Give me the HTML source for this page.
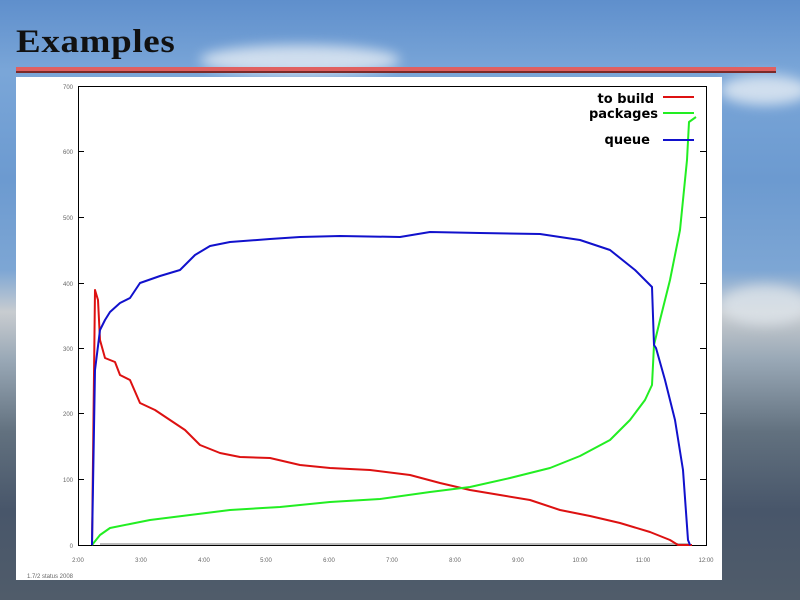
<!DOCTYPE html>
<html><head><meta charset="utf-8"><style>
body{margin:0;width:800px;height:600px;overflow:hidden;position:relative;font-family:"Liberation Sans",sans-serif;}
.bg{position:absolute;inset:0;background:linear-gradient(180deg,#5f8fcc 0%,#7aa6d8 12%,#6c9ad0 30%,#7da6d4 45%,#c8ccd0 52%,#99a8b6 60%,#62717f 72%,#48566a 85%,#505c6a 100%);}
.cl{position:absolute;background:#e6edf4;border-radius:50%;filter:blur(6px);opacity:.8}
h1{position:absolute;left:16px;top:24px;margin:0;font-family:"Liberation Serif",serif;font-weight:bold;font-size:33px;letter-spacing:0.6px;color:#111;transform:scaleX(1.12);transform-origin:left top;}
.bar1{position:absolute;left:16px;top:67px;width:760px;height:4px;background:#e06060}
.bar2{position:absolute;left:16px;top:71px;width:760px;height:2px;background:#7a2a2a}
.box{position:absolute;left:16px;top:77px;width:706px;height:503px;background:#fff}
svg{position:absolute;left:0;top:0}
</style></head><body>
<div class="bg"></div>
<div class="cl" style="left:720px;top:75px;width:90px;height:30px"></div>
<div class="cl" style="left:720px;top:285px;width:90px;height:40px;background:#dde4ea"></div>
<div class="cl" style="left:200px;top:45px;width:200px;height:30px"></div>
<h1>Examples</h1>
<div class="bar1"></div><div class="bar2"></div>
<div class="box"></div>
<svg width="800" height="600" viewBox="0 0 800 600">
<g stroke="#000" stroke-width="1" fill="none">
<rect x="78.5" y="86.5" width="628" height="459"/>
</g>
<g stroke="#000" stroke-width="1">
<line x1="78" y1="151.5" x2="84" y2="151.5"/><line x1="78" y1="217.5" x2="84" y2="217.5"/><line x1="78" y1="283.5" x2="84" y2="283.5"/><line x1="78" y1="348.5" x2="84" y2="348.5"/><line x1="78" y1="413.5" x2="84" y2="413.5"/><line x1="78" y1="479.5" x2="84" y2="479.5"/>
<line x1="700" y1="151.5" x2="706" y2="151.5"/><line x1="700" y1="217.5" x2="706" y2="217.5"/><line x1="700" y1="283.5" x2="706" y2="283.5"/><line x1="700" y1="348.5" x2="706" y2="348.5"/><line x1="700" y1="413.5" x2="706" y2="413.5"/><line x1="700" y1="479.5" x2="706" y2="479.5"/>
</g>
<g font-size="6" fill="#666" font-family="Liberation Sans" text-anchor="end">
<text x="73" y="89">700</text><text x="73" y="154">600</text><text x="73" y="220">500</text><text x="73" y="286">400</text><text x="73" y="351">300</text><text x="73" y="416">200</text><text x="73" y="482">100</text><text x="73" y="548">0</text>
</g>
<g font-size="6" fill="#666" font-family="Liberation Sans" text-anchor="middle">
<text x="78" y="562">2:00</text><text x="141" y="562">3:00</text><text x="204" y="562">4:00</text><text x="266" y="562">5:00</text><text x="329" y="562">6:00</text><text x="392" y="562">7:00</text><text x="455" y="562">8:00</text><text x="518" y="562">9:00</text><text x="580" y="562">10:00</text><text x="643" y="562">11:00</text><text x="706" y="562">12:00</text>
<text x="50" y="578">1.7/2 status 2008</text>
</g>
<line x1="100" y1="544" x2="690" y2="544" stroke="#bbb" stroke-width="2"/>
<g fill="none" stroke-width="2" stroke-linejoin="round">
<polyline stroke="#dd1111" points="92,545 95,290 98,300 100,340 105,358 115,362 120,375 130,380 140,403 155,410 170,420 185,430 200,445 220,453 240,457 270,458 300,465 330,468 370,470 410,475 440,483 470,490 500,495 530,500 560,510 590,516 620,523 650,532 670,540 678,545 692,545"/>
<polyline stroke="#22ee22" points="92,545 100,535 110,528 130,524 150,520 190,515 230,510 280,507 330,502 380,499 430,492 470,487 510,478 550,468 580,456 610,440 630,420 645,400 652,385 654,345 660,320 670,280 680,230 687,160 689,122 696,117"/>
<polyline stroke="#1111cc" points="92,545 95,370 100,330 105,320 110,312 120,303 130,298 140,283 160,276 180,270 195,255 210,246 230,242 270,239 300,237 340,236 400,237 430,232 480,233 540,234 580,240 610,250 635,270 652,287 654,345 656,348 665,380 675,420 683,470 688,540 690,545"/>
</g>
<g font-size="13" font-family="DejaVu Sans" font-weight="600" fill="#000" text-anchor="end">
<text x="654" y="103">to build</text><text x="658" y="118">packages</text><text x="650" y="144">queue</text>
</g>
<line x1="663" y1="97" x2="694" y2="97" stroke="#dd1111" stroke-width="2"/>
<line x1="663" y1="113" x2="694" y2="113" stroke="#22ee22" stroke-width="2"/>
<line x1="663" y1="140" x2="694" y2="140" stroke="#1111cc" stroke-width="2"/>
</svg>
</body></html>
